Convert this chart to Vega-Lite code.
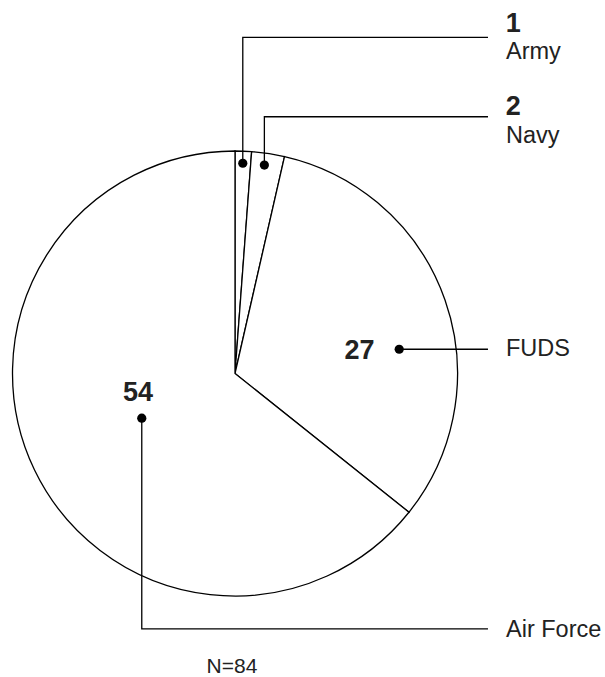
{
  "$schema": "https://vega.github.io/schema/vega-lite/v6.json",
  "width": 605,
  "height": 677,
  "padding": 0,
  "autosize": {"type": "none"},
  "background": "white",
  "config": {"view": {"stroke": null}, "font": "Liberation Sans"},
  "datasets": {
    "slices": [
      {"segment": "Army", "count": 1, "k": 1, "numX": 1.251, "numY": 1.535, "nameX": 1.218, "nameY": 1.413},
      {"segment": "Navy", "count": 2, "k": 2, "numX": 1.251, "numY": 1.162, "nameX": 1.218, "nameY": 1.036},
      {"segment": "FUDS", "count": 27, "k": 3, "numX": 0.56, "numY": 0.064, "nameX": 1.218, "nameY": 0.079},
      {"segment": "Air Force", "count": 54, "k": 4, "numX": -0.436, "numY": -0.124, "nameX": 1.218, "nameY": -1.183}
    ],
    "leaders": [
      {"segment": "Army", "i": 0, "x": 0.035, "y": 0.945},
      {"segment": "Army", "i": 1, "x": 0.035, "y": 1.511},
      {"segment": "Army", "i": 2, "x": 1.137, "y": 1.511},
      {"segment": "Navy", "i": 0, "x": 0.132, "y": 0.937},
      {"segment": "Navy", "i": 1, "x": 0.132, "y": 1.154},
      {"segment": "Navy", "i": 2, "x": 1.137, "y": 1.154},
      {"segment": "FUDS", "i": 0, "x": 0.738, "y": 0.109},
      {"segment": "FUDS", "i": 1, "x": 1.137, "y": 0.109},
      {"segment": "Air Force", "i": 0, "x": -0.419, "y": -0.201},
      {"segment": "Air Force", "i": 1, "x": -0.419, "y": -1.148},
      {"segment": "Air Force", "i": 2, "x": 1.137, "y": -1.148}
    ],
    "note": [{"label": "N=84", "x": -0.0135, "y": -1.347}]
  },
  "layer": [
    {
      "data": {"name": "slices"},
      "mark": {"type": "arc", "outerRadius": 222.5, "fill": "white", "stroke": "black", "strokeWidth": 1.3},
      "encoding": {
        "theta": {"field": "count", "type": "quantitative", "stack": true},
        "order": {"field": "k", "type": "quantitative"},
        "x": {"datum": 0, "type": "quantitative", "scale": {"domain": [-1.05618, 1.66292], "nice": false, "zero": false}, "axis": null},
        "y": {"datum": 0, "type": "quantitative", "scale": {"domain": [-1.36404, 1.67865], "nice": false, "zero": false}, "axis": null}
      }
    },
    {
      "data": {"name": "leaders"},
      "mark": {"type": "line", "stroke": "black", "strokeWidth": 1.3},
      "encoding": {
        "x": {"field": "x", "type": "quantitative", "scale": {"domain": [-1.05618, 1.66292], "nice": false, "zero": false}, "axis": null},
        "y": {"field": "y", "type": "quantitative", "scale": {"domain": [-1.36404, 1.67865], "nice": false, "zero": false}, "axis": null},
        "detail": {"field": "segment"},
        "order": {"field": "i", "type": "quantitative"}
      }
    },
    {
      "data": {"name": "leaders"},
      "transform": [{"filter": "datum.i == 0"}],
      "mark": {"type": "point", "filled": true, "color": "black", "opacity": 1, "size": 85},
      "encoding": {
        "x": {"field": "x", "type": "quantitative", "scale": {"domain": [-1.05618, 1.66292], "nice": false, "zero": false}, "axis": null},
        "y": {"field": "y", "type": "quantitative", "scale": {"domain": [-1.36404, 1.67865], "nice": false, "zero": false}, "axis": null}
      }
    },
    {
      "data": {"name": "slices"},
      "mark": {"type": "text", "fontWeight": "bold", "fontSize": 27, "align": "center", "baseline": "alphabetic", "color": "#222"},
      "encoding": {
        "x": {"field": "numX", "type": "quantitative", "scale": {"domain": [-1.05618, 1.66292], "nice": false, "zero": false}, "axis": null},
        "y": {"field": "numY", "type": "quantitative", "scale": {"domain": [-1.36404, 1.67865], "nice": false, "zero": false}, "axis": null},
        "text": {"field": "count", "type": "quantitative"}
      }
    },
    {
      "data": {"name": "slices"},
      "mark": {"type": "text", "fontSize": 23.5, "align": "left", "baseline": "alphabetic", "color": "#222"},
      "encoding": {
        "x": {"field": "nameX", "type": "quantitative", "scale": {"domain": [-1.05618, 1.66292], "nice": false, "zero": false}, "axis": null},
        "y": {"field": "nameY", "type": "quantitative", "scale": {"domain": [-1.36404, 1.67865], "nice": false, "zero": false}, "axis": null},
        "text": {"field": "segment", "type": "nominal"}
      }
    },
    {
      "data": {"name": "note"},
      "mark": {"type": "text", "fontSize": 21, "align": "center", "baseline": "alphabetic", "color": "#222"},
      "encoding": {
        "x": {"field": "x", "type": "quantitative", "scale": {"domain": [-1.05618, 1.66292], "nice": false, "zero": false}, "axis": null},
        "y": {"field": "y", "type": "quantitative", "scale": {"domain": [-1.36404, 1.67865], "nice": false, "zero": false}, "axis": null},
        "text": {"field": "label", "type": "nominal"}
      }
    }
  ]
}
